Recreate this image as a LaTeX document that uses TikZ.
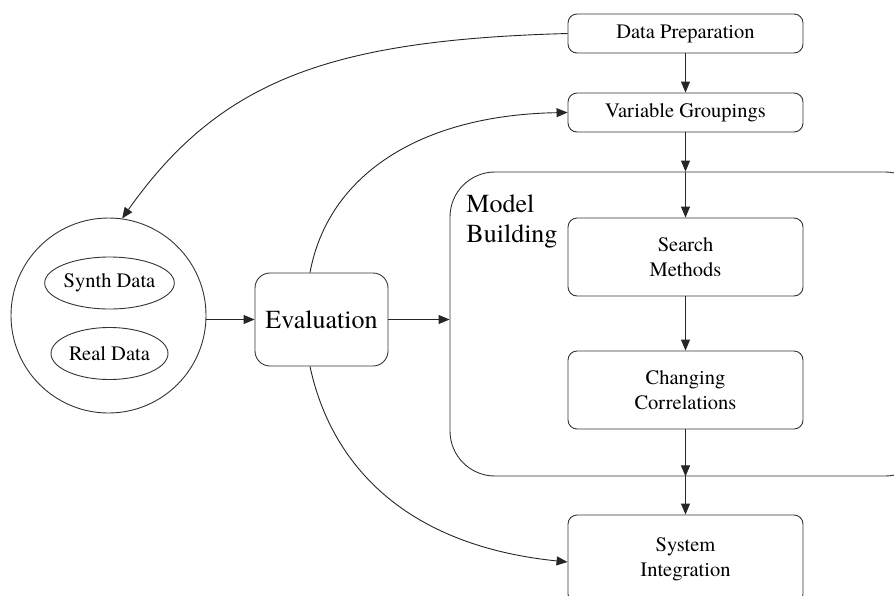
\documentclass[tikz,border=0pt]{standalone}
\usepackage{fontspec}
\setmainfont{TeX Gyre Termes}
\usetikzlibrary{arrows.meta,shapes.geometric}
\begin{document}
\begin{tikzpicture}[x=1pt,y=-1pt,
  line width=0.9pt,
  every node/.style={draw=black!80, inner sep=0pt, align=center},
  stage/.style={rounded corners=9pt, minimum width=235pt, minimum height=39pt,
    font=\fontsize{20.5}{25}\selectfont},
  tallstage/.style={stage, minimum height=78pt},
  datum/.style={ellipse, minimum width=117pt, minimum height=52pt,
    font=\fontsize{20.5}{25}\selectfont},
  flow/.style={draw=black!85, -{Triangle[length=11pt,width=9pt]}},
]
\useasboundingbox (0,0) rectangle (894,595);
\clip (0,0) rectangle (894,595);

% model building container (runs past the right edge)
\node[rounded corners=45pt, minimum width=480pt, minimum height=304pt] (mb) at (690,324) {};
\node[draw=none, anchor=north west, align=left, font=\fontsize{26}{30}\selectfont]
  (mbl) at (466,194) {Model\\Building};

% pipeline stages
\node[stage] (dp) at (685.5,33.5) {Data Preparation};
\node[stage] (vg) at (685.5,112.5) {Variable Groupings};
\node[tallstage] (sm) at (685.5,257) {Search\\Methods};
\node[tallstage] (cc) at (685.5,390) {Changing\\Correlations};
\node[stage, minimum height=88pt] (si) at (685.5,559) {System\\Integration};

% data sources
\node[circle, minimum size=195pt] (data) at (108.5,315.5) {};
\node[datum] (synth) at (109.5,283) {Synth Data};
\node[datum] (real) at (109.5,353.5) {Real Data};

% evaluation
\node[rounded corners=15pt, minimum width=133pt, minimum height=93pt,
  font=\fontsize{26}{30}\selectfont] (ev) at (321.5,319.5) {Evaluation};

% straight flow
\draw[flow] (dp) -- (vg);
\draw[flow] (vg.south) -- (vg.south |- mb.north);
\draw[flow] (vg.south |- mb.north) -- (sm.north);
\draw[flow] (sm) -- (cc);
\draw[flow] (cc.south) -- (cc.south |- mb.south);
\draw[flow] (cc.south |- mb.south) -- (si.north);
\draw[flow] (data.east |- ev.west) -- (ev.west);
\draw[flow] (ev.east) -- (ev.east -| mb.west);

% feedback curves
\draw[flow] (dp.west) .. controls (330,40) and (220,80) .. (data.82);
\draw[flow] ([xshift=-11.5pt]ev.north) .. controls (328,175) and (420,115) .. (vg.west);
\draw[flow] ([xshift=-11.5pt]ev.south) .. controls (330,460) and (400,545) .. ([yshift=-3pt]si.west);
\end{tikzpicture}
\end{document}
